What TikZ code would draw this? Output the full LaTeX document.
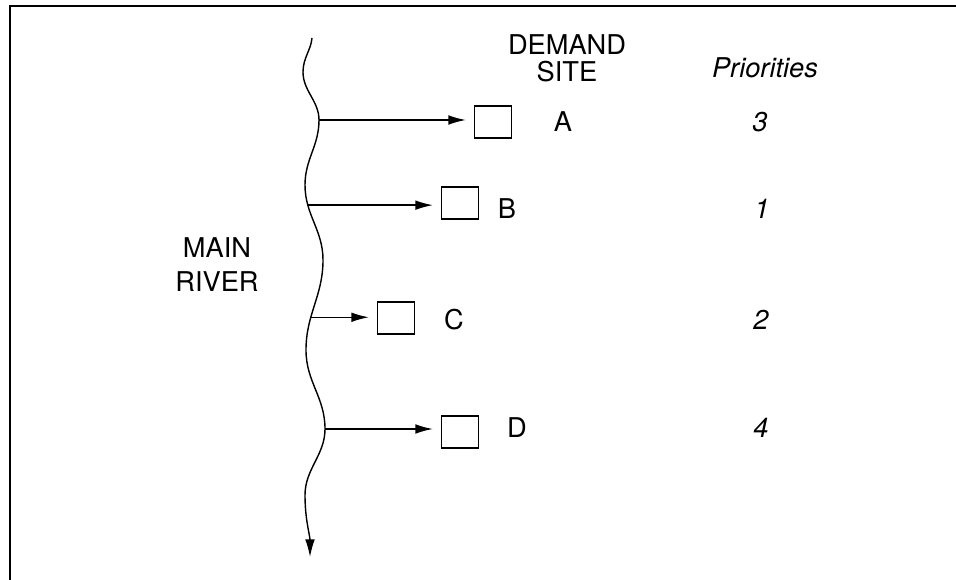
\documentclass[tikz,border=0pt]{standalone}
\usepackage{fontspec}
\setmainfont{TeX Gyre Heros}
\usetikzlibrary{arrows.meta}
\begin{document}
\begin{tikzpicture}[x=0.02cm,y=-0.02cm,
  site/.style={draw,minimum width=0.74cm,minimum height=0.64cm,inner sep=0pt,line width=0.8pt},
  lbl/.style={anchor=base,inner sep=0pt,font=\fontsize{15.5}{15.3}\selectfont},
  num/.style={lbl,font=\fontsize{15.5}{15.3}\selectfont\itshape},
  flow/.style={draw,line width=0.8pt,-{Latex[length=10pt,width=5.5pt]},shorten >=4.5pt}]
\useasboundingbox (0,0) rectangle (956,580);
\path[draw,line width=1.3pt] (10,580) -- (10,6) -- (956,6);

% river
\path[draw,line width=0.8pt,-{Latex[length=10pt,width=5.5pt]}] (312,38)
  .. controls (311,50) and (303,58) .. (303,72)
  .. controls (303,91) and (319,101) .. (319,120) coordinate (rA)
  .. controls (319,146) and (305,159) .. (305,185)
  .. controls (305,215) and (323,230) .. (323,260) coordinate[pos=0.25] (rB)
  .. controls (323,296) and (306,314) .. (306,350) coordinate[pos=0.65] (rC)
  .. controls (306,382) and (325,397) .. (325,429) coordinate (rD)
  .. controls (325,455) and (305,469) .. (305,495)
  .. controls (305,520) and (310,535) .. (310,557);

\node[site] (A) at (493,122) {};
\node[site] (B) at (460,203) {};
\node[site] (C) at (396,318) {};
\node[site] (D) at (460,432) {};

\path[flow] (rA) -- (rA -| A.west);
\path[flow] (rB) -- (rB -| B.west);
\path[flow] (rC) -- (rC -| C.west);
\path[flow] (rD) -- (rD -| D.west);

\node[lbl,anchor=center,align=center,font=\fontsize{15.5}{18.9}\selectfont] (river) at (217,264.5) {MAIN\\RIVER};
\node[lbl,anchor=center,align=center] (demand) at (567,58) {DEMAND\\SITE};
\node[num] (prio) at (765,78) {Priorities};

\node[lbl] (la) at (563,132) {A};
\node[lbl] (lb) at (507,219) {B};
\node[lbl] (lc) at (454,330) {C};
\node[lbl] (ld) at (517,438) {D};

\node[num] (pa) at (760,132) {3};
\node[num] (pb) at (762,219) {1};
\node[num] (pc) at (761,330) {2};
\node[num] (pd) at (761,438) {4};
\end{tikzpicture}
\end{document}
